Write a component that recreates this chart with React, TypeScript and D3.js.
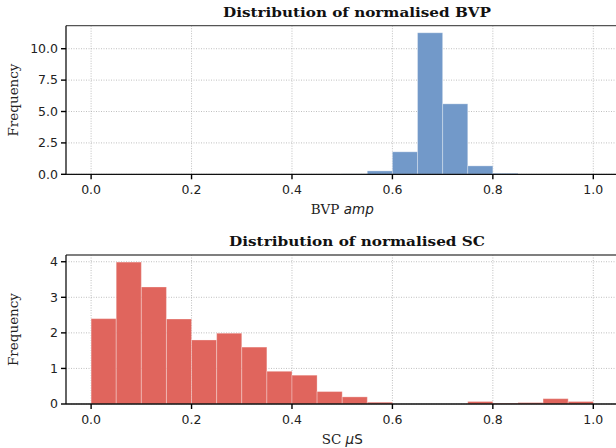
import React, { useEffect, useRef } from "react";
import * as d3 from "d3";

const binEdges = [0, 0.05, 0.1, 0.15, 0.2, 0.25, 0.3, 0.35, 0.4, 0.45, 0.5, 0.55, 0.6, 0.65, 0.7, 0.75, 0.8, 0.85, 0.9, 0.95, 1.0];
const bvpDensity = [0, 0, 0, 0, 0, 0, 0, 0, 0, 0, 0.03, 0.27, 1.79, 11.27, 5.61, 0.67, 0.08, 0, 0, 0];
const scDensity = [2.4, 3.99, 3.29, 2.39, 1.8, 1.99, 1.6, 0.92, 0.81, 0.35, 0.2, 0.05, 0, 0, 0, 0.07, 0.02, 0.04, 0.15, 0.07];
const xTicks = [0, 0.2, 0.4, 0.6, 0.8, 1.0];
const bvpYTicks = [0, 2.5, 5, 7.5, 10];
const scYTicks = [0, 1, 2, 3, 4];
const titles = ["Distribution of normalised BVP", "Distribution of normalised SC"];

const W = 616;
const H = 448;

export default function App() {
  const ref = useRef<SVGSVGElement>(null);
  useEffect(() => {
    const svg = d3.select(ref.current);
    svg.selectAll("*").remove();

    const panels = [
      { data: bvpDensity, yTicks: bvpYTicks, yFmt: d3.format(".1f"), color: "#7299c9", top: 25.7, bottom: 174.3, title: titles[0], titleLen: 268, xlabel: "bvp" },
      { data: scDensity, yTicks: scYTicks, yFmt: d3.format("d"), color: "#e0655d", top: 255, bottom: 404, title: titles[1], titleLen: 256, xlabel: "sc" },
    ];
    const left = 66;
    const rightData = 618.4;
    const rightSpine = 648;

    panels.forEach((p) => {
      const x = d3.scaleLinear().domain([-0.05, 1.05]).range([left, rightData]);
      const ymax = (d3.max(p.data) as number) * 1.05;
      const y = d3.scaleLinear().domain([0, ymax]).range([p.bottom, p.top]);
      const g = svg.append("g");

      // grid
      g.selectAll(".gx").data(xTicks).enter().append("line")
        .attr("x1", (d) => x(d)).attr("x2", (d) => x(d))
        .attr("y1", p.top).attr("y2", p.bottom)
        .attr("stroke", "#b0b0b0").attr("stroke-width", 0.8).attr("stroke-dasharray", "1,1.5");
      g.selectAll(".gy").data(p.yTicks).enter().append("line")
        .attr("x1", left).attr("x2", rightSpine)
        .attr("y1", (d) => y(d)).attr("y2", (d) => y(d))
        .attr("stroke", "#b0b0b0").attr("stroke-width", 0.8).attr("stroke-dasharray", "1,1.5");

      // bars
      const bins = p.data.map((v, i) => ({ x0: binEdges[i], x1: binEdges[i + 1], v }));
      g.selectAll(".bar").data(bins.filter((b) => b.v > 0)).enter().append("rect")
        .attr("x", (d) => x(d.x0)).attr("width", (d) => x(d.x1) - x(d.x0))
        .attr("y", (d) => y(d.v)).attr("height", (d) => y(0) - y(d.v))
        .attr("fill", p.color)
        .attr("stroke", "#ffffff").attr("stroke-opacity", 0.3).attr("stroke-width", 1);

      // spines
      g.append("line").attr("x1", left).attr("x2", rightSpine).attr("y1", p.top).attr("y2", p.top)
        .attr("stroke", "#555").attr("stroke-width", 1.3);
      g.append("line").attr("x1", left).attr("x2", left).attr("y1", p.top).attr("y2", p.bottom)
        .attr("stroke", "#111").attr("stroke-width", 1.3);
      g.append("line").attr("x1", left).attr("x2", rightSpine).attr("y1", p.bottom).attr("y2", p.bottom)
        .attr("stroke", "#111").attr("stroke-width", 1.3);

      // x ticks
      g.selectAll(".tx").data(xTicks).enter().append("line")
        .attr("x1", (d) => x(d)).attr("x2", (d) => x(d))
        .attr("y1", p.bottom).attr("y2", p.bottom + 5)
        .attr("stroke", "#000").attr("stroke-width", 1.4);
      g.selectAll(".lx").data(xTicks).enter().append("text")
        .attr("x", (d) => x(d)).attr("y", p.bottom + 20)
        .attr("text-anchor", "middle")
        .attr("font-family", "DejaVu Sans").attr("font-size", 12.5).attr("fill", "#222")
        .text((d) => d3.format(".1f")(d));

      // y ticks
      g.selectAll(".ty").data(p.yTicks).enter().append("line")
        .attr("x1", left - 5).attr("x2", left)
        .attr("y1", (d) => y(d)).attr("y2", (d) => y(d))
        .attr("stroke", "#000").attr("stroke-width", 1.4);
      g.selectAll(".ly").data(p.yTicks).enter().append("text")
        .attr("x", left - 8).attr("y", (d) => y(d)).attr("dy", "0.35em")
        .attr("text-anchor", "end")
        .attr("font-family", "DejaVu Sans").attr("font-size", 12.5).attr("fill", "#222")
        .text((d) => p.yFmt(d));

      // title
      g.append("text").attr("x", 357).attr("y", p.top - 9)
        .attr("text-anchor", "middle")
        .attr("font-family", "DejaVu Serif").attr("font-weight", "bold").attr("font-size", 13.5)
        .attr("textLength", p.titleLen).attr("lengthAdjust", "spacingAndGlyphs")
        .attr("fill", "#111")
        .text(p.title);

      // y label
      g.append("text")
        .attr("transform", `translate(18,${(p.top + p.bottom) / 2}) rotate(-90)`)
        .attr("text-anchor", "middle")
        .attr("font-family", "DejaVu Serif").attr("font-size", 13.5).attr("fill", "#222")
        .text("Frequency");

      // x label
      const xl = g.append("text").attr("x", x(0.5)).attr("y", p.bottom + 40)
        .attr("text-anchor", "middle")
        .attr("font-family", "DejaVu Serif").attr("font-size", 13.5).attr("fill", "#222");
      if (p.xlabel === "bvp") {
        xl.append("tspan").text("BVP ");
        xl.append("tspan").attr("font-family", "DejaVu Sans").attr("font-style", "oblique").text("amp");
      } else {
        xl.append("tspan").text("SC ");
        xl.append("tspan").attr("font-family", "DejaVu Sans").attr("font-style", "oblique").text("μ");
        xl.append("tspan").attr("font-family", "DejaVu Sans").text("S");
      }
    });
  }, []);

  return (
    <svg ref={ref} width={W} height={H} style={{ position: "absolute", left: 0, top: 0, background: "#fff" }} />
  );
}
